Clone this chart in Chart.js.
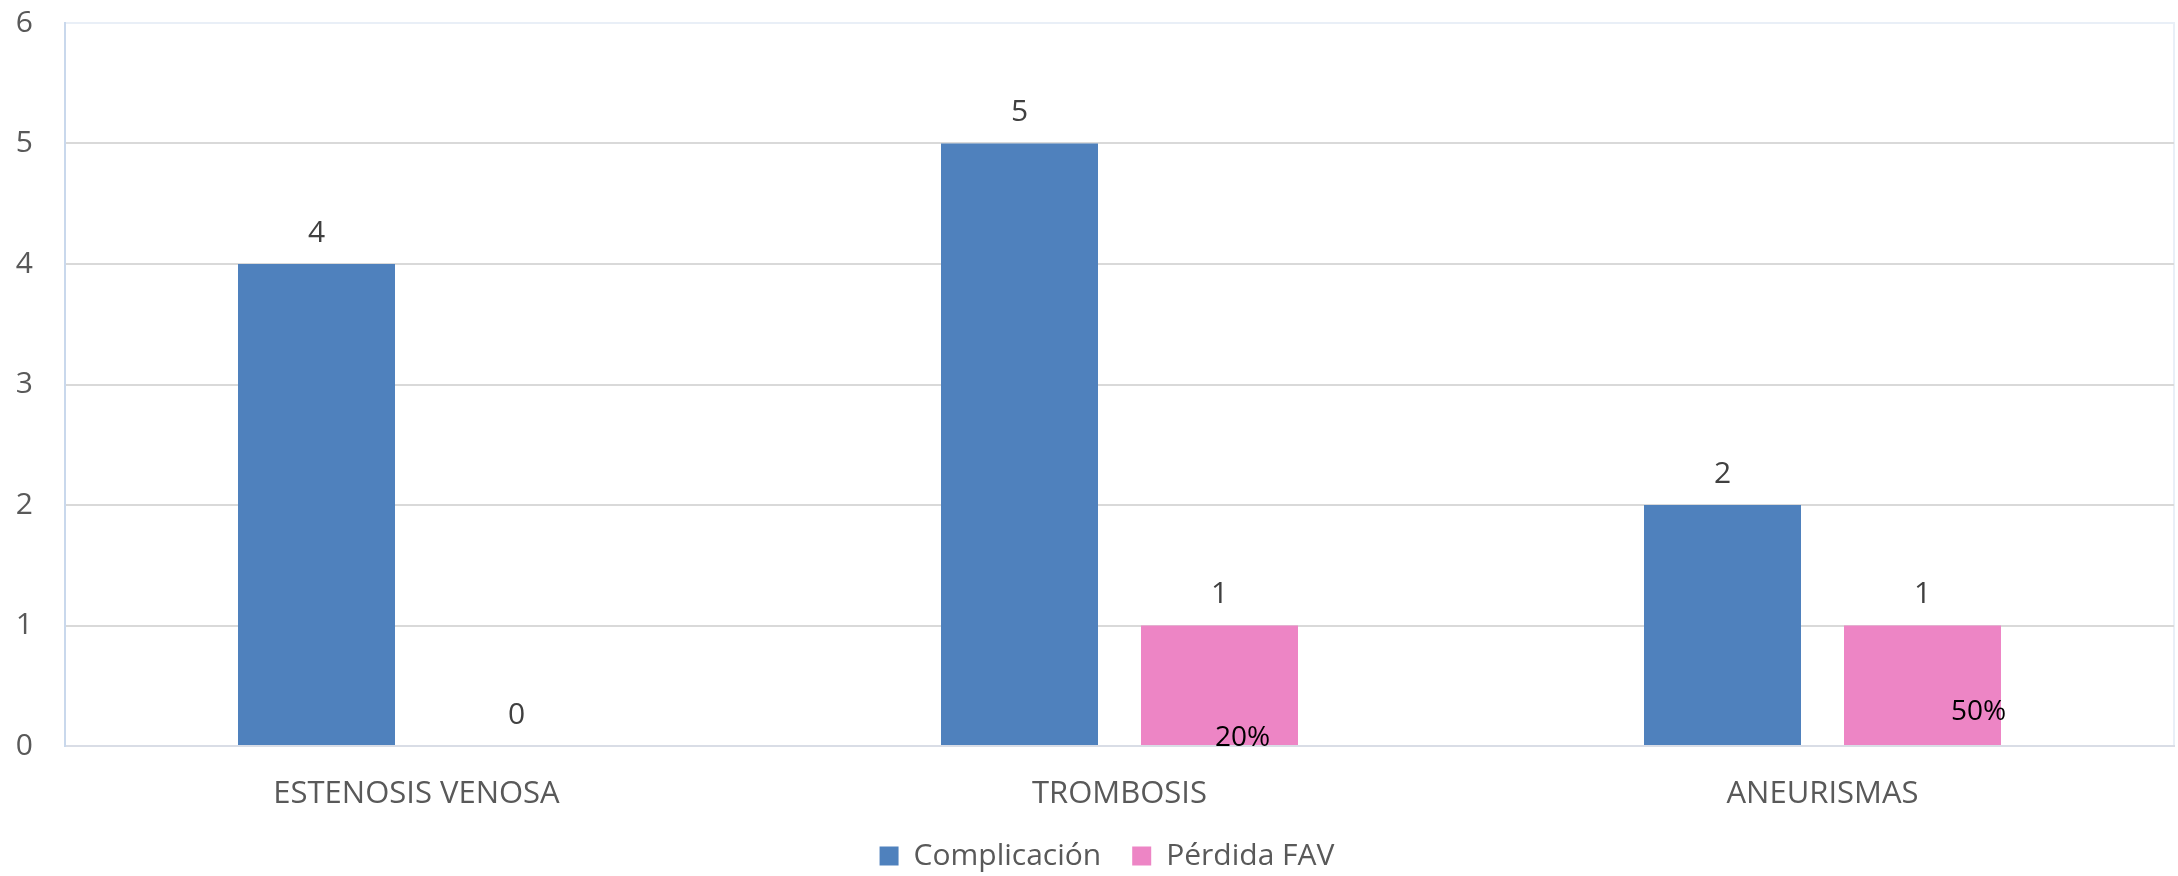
<!DOCTYPE html>
<html>
<head>
<meta charset="utf-8">
<script src="https://cdn.jsdelivr.net/npm/chart.js@4.4.1/dist/chart.umd.min.js"></script>
<style>
  html, body { margin: 0; padding: 0; background: #fff; }
  #wrap { width: 2178px; height: 876px; }
</style>
</head>
<body>
<div id="wrap"><canvas id="chart" width="2178" height="876"></canvas></div>
<script>
const categories   = ['ESTENOSIS VENOSA', 'TROMBOSIS', 'ANEURISMAS'];
const complicacion = [4, 5, 2];
const perdidaFav   = [0, 1, 1];
const pctLabels    = ['', '20%', '50%'];
const yTicks       = [0, 1, 2, 3, 4, 5, 6];

const FONT = '"Open Sans", "Noto Sans", sans-serif';

// label nudges (px) for the percentage text, relative to bar centre / baseline
const pctNudge = [[0, 0], [23, -8], [56, -34]];

const plotFrame = {
    id: 'plotFrame',
    afterLayout(chart) {
        // legend sits a little right of centre in the original
        chart.legend.left += 20;
        chart.legend.right += 20;
    },
    beforeDraw(chart) {
        const { ctx, chartArea: a } = chart;
        ctx.save();
        ctx.strokeStyle = '#e9eff7';
        ctx.lineWidth = 2;
        ctx.strokeRect(a.left, a.top, a.right - a.left, a.bottom - a.top);
        ctx.restore();
    }
};

const valueLabels = {
    id: 'valueLabels',
    afterDatasetsDraw(chart) {
        const { ctx } = chart;
        ctx.save();
        ctx.font = '30px ' + FONT;
        ctx.textAlign = 'center';
        ctx.textBaseline = 'middle';
        chart.data.datasets.forEach((ds, i) => {
            chart.getDatasetMeta(i).data.forEach((bar, j) => {
                ctx.fillStyle = '#404040';
                ctx.fillText(String(ds.data[j]), bar.x, bar.y - 31);
            });
        });
        // percentage notes on the "Pérdida FAV" bars
        const meta = chart.getDatasetMeta(1);
        const base = chart.scales.y.getPixelForValue(0);
        ctx.font = '28px ' + FONT;
        ctx.fillStyle = '#000';
        meta.data.forEach((bar, j) => {
            if (!pctLabels[j]) return;
            ctx.fillText(pctLabels[j], bar.x + pctNudge[j][0], base + pctNudge[j][1]);
        });
        ctx.restore();
    }
};

new Chart(document.getElementById('chart'), {
    type: 'bar',
    data: {
        labels: categories,
        datasets: [
            { label: 'Complicación', data: complicacion, backgroundColor: '#4f81bd' },
            { label: 'Pérdida FAV',  data: perdidaFav,   backgroundColor: '#ed85c5' }
        ]
    },
    options: {
        responsive: false,
        animation: false,
        devicePixelRatio: 1,
        categoryPercentage: 0.569,
        barPercentage: 0.785,
        layout: { padding: { top: 23, right: 4, bottom: -5, left: 0 } },
        plugins: {
            tooltip: { enabled: false },
            legend: {
                position: 'bottom',
                labels: {
                    font: { family: FONT, size: 30 },
                    color: '#595959',
                    boxWidth: 19,
                    boxHeight: 19,
                    padding: 31
                }
            }
        },
        scales: {
            x: {
                grid: { display: false, drawTicks: false },
                border: { color: '#d9dde6', width: 2 },
                ticks: { font: { family: FONT, size: 31, lineHeight: 1 }, color: '#595959', padding: 33 },
                afterFit: s => { s.height = 64; }
            },
            y: {
                min: 0,
                max: 6,
                afterBuildTicks: s => { s.ticks = yTicks.map(v => ({ value: v })); },
                grid: {
                    drawTicks: false,
                    lineWidth: 2,
                    color: c => (c.tick.value === 0 || c.tick.value === 6) ? 'rgba(0,0,0,0)' : '#d9d9d9'
                },
                border: { color: '#c9d8ec', width: 2 },
                ticks: { font: { family: FONT, size: 30 }, color: '#595959', padding: 32 },
                afterFit: s => { s.width = 65; s.paddingTop = 0; s.paddingBottom = 0; }
            }
        }
    },
    plugins: [plotFrame, valueLabels]
});
</script>
</body>
</html>
